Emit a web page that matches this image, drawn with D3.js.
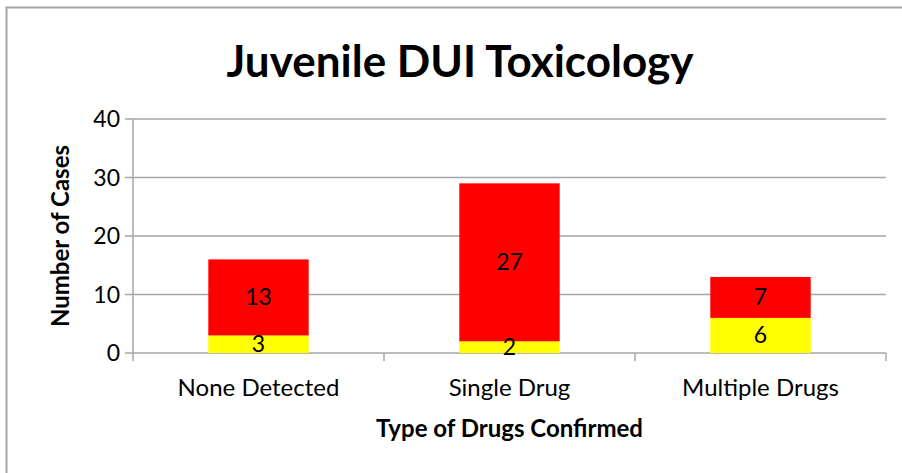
<!DOCTYPE html>
<html>
<head>
<meta charset="utf-8">
<script src="https://cdn.jsdelivr.net/npm/d3@7"></script>
<style>
  body { margin: 0; background: #fff; }
  svg text { font-family: Lato, "Open Sans", sans-serif; fill: #000; }
</style>
</head>
<body>
<div id="container"></div>
<script>
const categories = ["None Detected", "Single Drug", "Multiple Drugs"];
const yellowValues = [3, 2, 6];
const redValues = [13, 27, 7];
const yTicks = [0, 10, 20, 30, 40];

const W = 902, H = 473;
const margin = { top: 119, right: 16, bottom: 120, left: 133 };
const width = W - margin.left - margin.right;
const height = H - margin.top - margin.bottom;

const svg = d3.select("#container").append("svg")
  .attr("width", W)
  .attr("height", H);

// chart border
svg.append("path")
  .attr("d", `M6.5,${H} V7.5 H${W}`)
  .attr("fill", "none")
  .attr("stroke", "#a6a6a6")
  .attr("stroke-width", 2);

svg.append("text")
  .attr("x", 460)
  .attr("y", 77)
  .attr("text-anchor", "middle")
  .style("font-size", "44px")
  .style("font-weight", "bold")
  .text("Juvenile DUI Toxicology");

const g = svg.append("g")
  .attr("transform", `translate(${margin.left},${margin.top})`);

const x = d3.scaleBand()
  .domain(categories)
  .range([0, width])
  .paddingInner(0.6)
  .paddingOuter(0.3);

const y = d3.scaleLinear()
  .domain([0, 40])
  .range([height, 0]);

// gridlines
g.selectAll(".grid")
  .data(yTicks)
  .enter()
  .append("line")
  .attr("x1", -8)
  .attr("x2", width)
  .attr("y1", d => y(d))
  .attr("y2", d => y(d))
  .attr("stroke", "#a6a6a6")
  .attr("stroke-width", 1.5);

// y axis line
g.append("line")
  .attr("x1", 0).attr("x2", 0)
  .attr("y1", 0).attr("y2", height + 8)
  .attr("stroke", "#a6a6a6")
  .attr("stroke-width", 1.5);

// category separator ticks
const step = width / categories.length;
g.selectAll(".ctick")
  .data(d3.range(1, categories.length + 1))
  .enter()
  .append("line")
  .attr("x1", d => d * step)
  .attr("x2", d => d * step)
  .attr("y1", height)
  .attr("y2", height + 8)
  .attr("stroke", "#a6a6a6")
  .attr("stroke-width", 1.5);

// y tick labels
g.selectAll(".ylab")
  .data(yTicks)
  .enter()
  .append("text")
  .attr("x", -13)
  .attr("y", d => y(d) + 8)
  .attr("text-anchor", "end")
  .style("font-size", "23px")
  .text(d => d);

// stacked bars
const rows = categories.map((c, i) => ({ cat: c, yellow: yellowValues[i], red: redValues[i] }));
const stack = d3.stack().keys(["yellow", "red"])(rows);
const colors = { yellow: "#ffff00", red: "#ff0000" };

stack.forEach(layer => {
  g.selectAll(".bar-" + layer.key)
    .data(layer)
    .enter()
    .append("rect")
    .attr("x", d => x(d.data.cat))
    .attr("y", d => y(d[1]))
    .attr("width", x.bandwidth())
    .attr("height", d => y(d[0]) - y(d[1]))
    .attr("fill", colors[layer.key]);
});

// data labels
stack.forEach(layer => {
  g.selectAll(".lab-" + layer.key)
    .data(layer)
    .enter()
    .append("text")
    .attr("x", d => x(d.data.cat) + x.bandwidth() / 2)
    .attr("y", d => y((d[0] + d[1]) / 2) + 8)
    .attr("text-anchor", "middle")
    .style("font-size", "23px")
    .text(d => d[1] - d[0]);
});

// category labels
g.selectAll(".xlab")
  .data(categories)
  .enter()
  .append("text")
  .attr("x", d => x(d) + x.bandwidth() / 2)
  .attr("y", height + 43)
  .attr("text-anchor", "middle")
  .style("font-size", "24px")
  .text(d => d);

// axis titles
g.append("text")
  .attr("x", width / 2)
  .attr("y", height + 84)
  .attr("text-anchor", "middle")
  .style("font-size", "24px")
  .style("font-weight", "bold")
  .text("Type of Drugs Confirmed");

g.append("text")
  .attr("transform", `translate(${-64},${height / 2}) rotate(-90)`)
  .attr("text-anchor", "middle")
  .style("font-size", "24px")
  .style("font-weight", "bold")
  .text("Number of Cases");
</script>
</body>
</html>
